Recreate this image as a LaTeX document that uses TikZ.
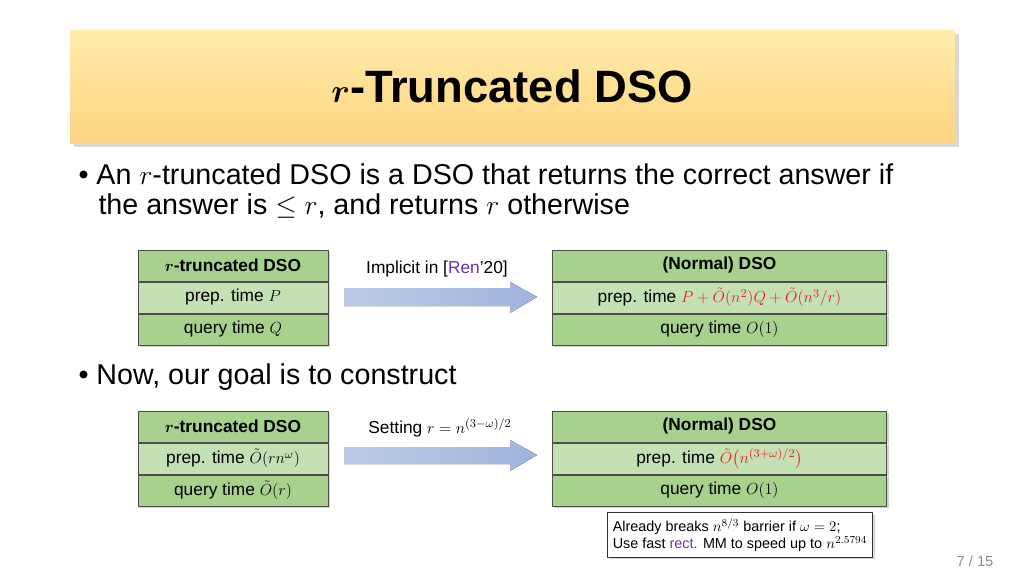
\documentclass[tikz,border=0pt]{standalone}
\usepackage{fontspec}
\setmainfont{Liberation Sans}
\usepackage{amsmath}
\usetikzlibrary{positioning,shadows}
\definecolor{hdrgreen}{RGB}{169,209,142}
\definecolor{midgreen}{RGB}{197,224,180}
\definecolor{arrowblue}{RGB}{160,180,220}
\definecolor{redtxt}{RGB}{230,30,30}
\definecolor{purptxt}{RGB}{112,48,160}
\tikzset{every picture/.style={line width=0.75pt}}
\tikzset{
  cellL/.style={draw=black!70, fill=hdrgreen, minimum width=142.5pt, minimum height=23.25pt, inner sep=0pt, font=\fontsize{13}{15}\selectfont, drop shadow={shadow xshift=1.5pt,shadow yshift=-1.5pt,opacity=0.35}},
  cellR/.style={cellL, minimum width=251pt},
  light/.style={fill=midgreen},
  bigarrow/.style={draw=none, left color=arrowblue!70, right color=arrowblue},
  bullet/.style={anchor=west, inner sep=0pt, font=\fontsize{21.5}{24}\selectfont}
}
\begin{document}
\begin{tikzpicture}[x=0.75pt,y=0.75pt,yscale=-1,xscale=1]
\useasboundingbox (0,0) rectangle (1024,576);
\fill[white] (0,0) rectangle (1024,576);

% Title
\shade[top color={rgb,255:red,255;green,236;blue,170}, bottom color={rgb,255:red,253;green,212;blue,128}, drop shadow={opacity=0.3}] (70,30) rectangle (955,143);
\node (title) at (512,86) {\fontsize{34}{38}\selectfont\bfseries $\boldsymbol{r}$-Truncated DSO};

% Bullets
\node[bullet] (b1) at (78,174) {\textbullet\ An $r$-truncated DSO is a DSO that returns the correct answer if};
\node[bullet] (b1b) at (98,206) {the answer is $\le r$, and returns $r$ otherwise};
\node[bullet] (b2) at (78,377) {\textbullet\ Now, our goal is to construct};

% First row of tables
\node[cellL] (l1h) at (233,265.5) {\textbf{$\boldsymbol{r}$-truncated DSO}};
\node[cellL,light,below=0pt of l1h] (l1p) {prep. time $P$};
\node[cellL,below=0pt of l1p] (l1q) {query time $Q$};
\node[cellR] (r1h) at (719.5,265.5) {\textbf{(Normal) DSO}};
\node[cellR,light,below=0pt of r1h] (r1p) {prep. time \textcolor{redtxt}{$P+\tilde O(n^2)Q+\tilde O(n^3/r)$}};
\node[cellR,below=0pt of r1p] (r1q) {query time $O(1)$};
\fill[bigarrow] (344,288) -- (510,288) -- (510,282) -- (537,297) -- (510,313) -- (510,306) -- (344,306) -- cycle;
\node (lab1) at (437,269) {\fontsize{13}{15}\selectfont Implicit in [\textcolor{purptxt}{Ren}'20]};

% Second row of tables
\node[cellL] (l2h) at (233,426.5) {\textbf{$\boldsymbol{r}$-truncated DSO}};
\node[cellL,light,below=0pt of l2h] (l2p) {prep. time $\tilde O(rn^\omega)$};
\node[cellL,below=0pt of l2p] (l2q) {query time $\tilde O(r)$};
\node[cellR] (r2h) at (719.5,426.5) {\textbf{(Normal) DSO}};
\node[cellR,light,below=0pt of r2h] (r2p) {prep. time \textcolor{redtxt}{$\tilde O\bigl(n^{(3+\omega)/2}\bigr)$}};
\node[cellR,below=0pt of r2p] (r2q) {query time $O(1)$};
\fill[bigarrow] (344,447) -- (510,447) -- (510,440) -- (537,455) -- (510,471) -- (510,464) -- (344,464) -- cycle;
\node (lab2) at (440,428) {\fontsize{13}{15}\selectfont Setting $r=n^{(3-\omega)/2}$};

% Note
\node[draw=black!80, fill=white, align=left, inner sep=4pt, font=\fontsize{10.8}{13}\selectfont, drop shadow={shadow xshift=1.5pt,shadow yshift=-1.5pt,opacity=0.3}] (note) at (740,535) {Already breaks $n^{8/3}$ barrier if $\omega=2$;\\Use fast \textcolor{purptxt}{rect.} MM to speed up to $n^{2.5794}$};

% Page number
\node[text=black!45] (page) at (975,561) {\fontsize{11}{13}\selectfont 7 / 15};
\end{tikzpicture}
\end{document}
